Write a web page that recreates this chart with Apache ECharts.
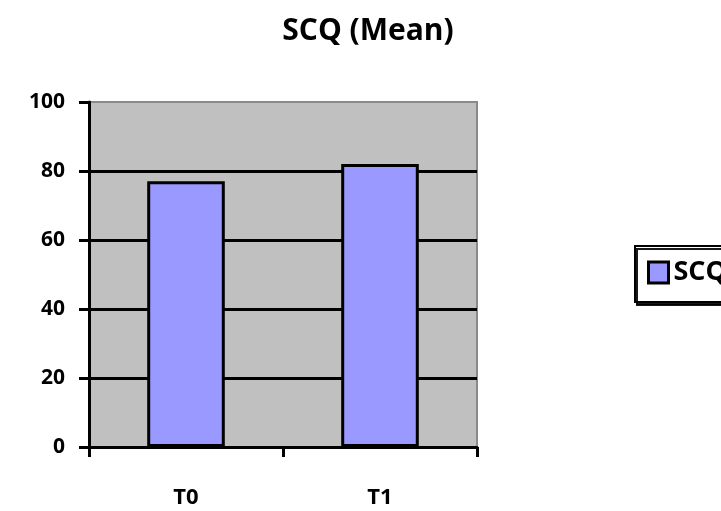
<!DOCTYPE html>
<html>
<head>
<meta charset="utf-8">
<script src="https://cdn.jsdelivr.net/npm/echarts@6/dist/echarts.min.js"></script>
<style>
html,body{margin:0;padding:0;background:#fff;}
#c{width:721px;height:511px;}
</style>
</head>
<body>
<div id="c"></div>
<script>
const categories = ['T0', 'T1'];
const seriesName = 'SCQ';
const scqValues = [77, 82];
const chartTitle = 'SCQ (Mean)';

const FONT = '"Open Sans", "Liberation Sans", sans-serif';
const chart = echarts.init(document.getElementById('c'));
chart.setOption({
  animation: false,
  backgroundColor: '#ffffff',
  title: {
    text: chartTitle,
    left: 363,
    top: 11,
    textAlign: 'center',
    textStyle: { fontFamily: FONT, fontWeight: 'bold', fontSize: 30, color: '#000' }
  },
  legend: {
    data: [seriesName],
    left: 635,
    top: 246,
    orient: 'vertical',
    padding: [13, 13, 16, 12],
    itemWidth: 20,
    itemHeight: 21,
    itemGap: 0,
    borderColor: '#000',
    borderWidth: 2,
    shadowColor: 'rgba(0,0,0,0.9)',
    shadowOffsetX: 2,
    shadowOffsetY: 3,
    backgroundColor: '#fff',
    icon: 'rect',
    itemStyle: { borderColor: '#000', borderWidth: 3 },
    textStyle: { fontFamily: FONT, fontWeight: 'bold', fontSize: 27, color: '#000', padding: [0, 0, 0, 0] }
  },
  grid: {
    left: 89, top: 102, right: 244, bottom: 64,
    show: true,
    backgroundColor: '#c0c0c0',
    borderColor: '#8a8a8a',
    borderWidth: 2
  },
  xAxis: {
    type: 'category',
    data: categories,
    boundaryGap: true,
    axisLine: { lineStyle: { color: '#000', width: 3 } },
    axisTick: { show: true, length: 10, lineStyle: { color: '#000', width: 3 } },
    axisLabel: { margin: 40, fontFamily: FONT, fontWeight: 'bold', fontSize: 22, color: '#000' },
    splitLine: { show: false }
  },
  yAxis: {
    type: 'value',
    min: 0, max: 100, interval: 20,
    axisLine: { show: true, lineStyle: { color: '#000', width: 3 } },
    axisTick: { show: true, length: 10, lineStyle: { color: '#000', width: 3 } },
    axisLabel: { margin: 24, fontFamily: FONT, fontWeight: 'bold', fontSize: 21, color: '#000' },
    splitLine: { show: true, showMinLine: false, showMaxLine: false, lineStyle: { color: '#000', width: 3 } }
  },
  series: [{
    name: seriesName,
    type: 'bar',
    data: scqValues,
    barWidth: '40%',
    itemStyle: { color: '#9999ff', borderColor: '#000', borderWidth: 3 }
  }]
});
</script>
</body>
</html>
